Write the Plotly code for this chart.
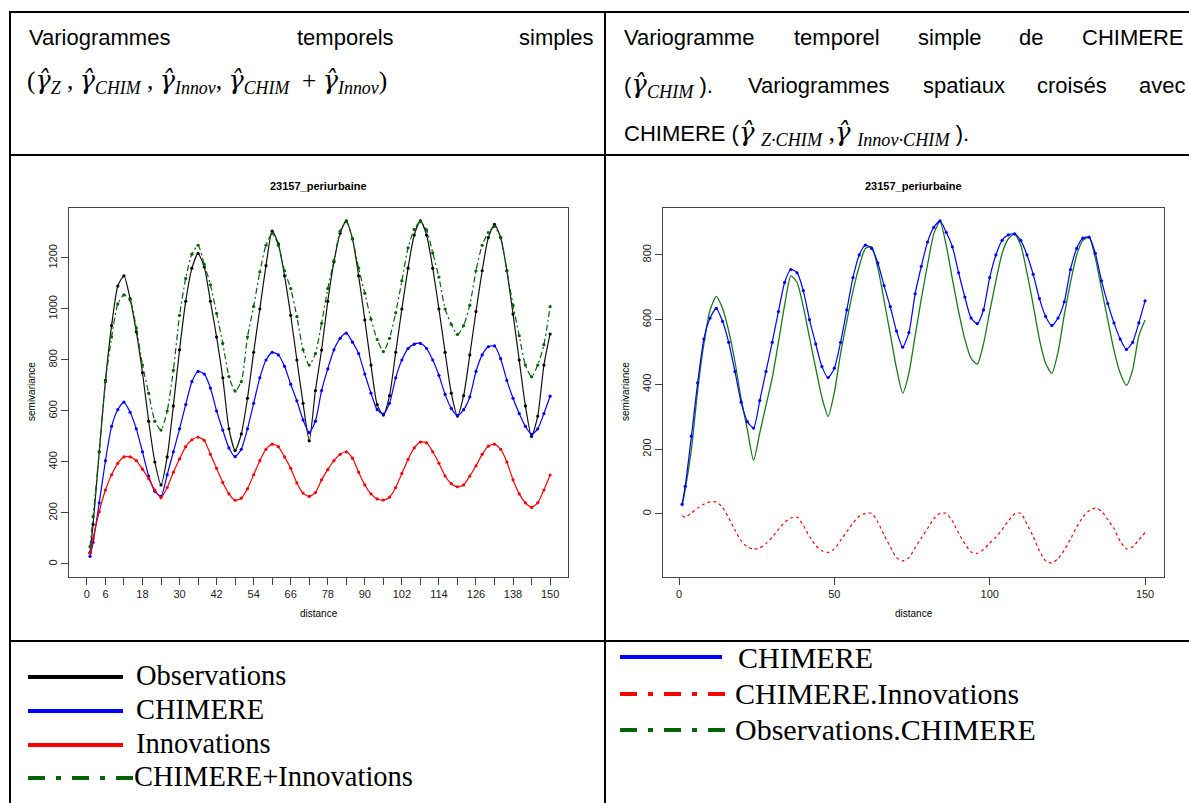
import plotly.graph_objects as go

W, H = 1189, 803

# ---------------- data ----------------
distance = [1, 2, 4, 6, 8, 10, 12, 14, 16, 18, 20, 22,
            24, 26, 28, 30, 32, 34, 36, 38, 40, 42, 44, 46,
            48, 50, 52, 54, 56, 58, 60, 62, 64, 66, 68, 70,
            72, 74, 76, 78, 80, 82, 84, 86, 88, 90, 92, 94,
            96, 98, 100, 102, 104, 106, 108, 110, 112, 114, 116, 118,
            120, 122, 124, 126, 128, 130, 132, 134, 136, 138, 140, 142,
            144, 146, 148, 150]

observations = [45, 155, 440, 720, 935, 1090, 1130, 1040, 910, 750, 560, 400,
                310, 420, 620, 840, 1030, 1160, 1218, 1165, 1030, 890, 730, 530,
                445, 510, 650, 830, 1000, 1170, 1305, 1255, 1130, 975, 800, 630,
                483, 680, 839, 1030, 1185, 1297, 1346, 1275, 1130, 957, 780, 625,
                584, 660, 830, 1000, 1160, 1290, 1346, 1290, 1160, 1000, 830, 670,
                580, 660, 820, 990, 1150, 1280, 1332, 1280, 1150, 980, 800, 620,
                500, 580, 780, 902]

chimere = [30, 85, 240, 405, 540, 605, 635, 595, 530, 440, 345, 285,
           265, 350, 440, 530, 625, 715, 755, 745, 690, 600, 525, 455,
           421, 450, 530, 630, 730, 800, 830, 820, 775, 705, 640, 565,
           515, 560, 680, 765, 840, 885, 905, 870, 825, 745, 670, 605,
           588, 630, 730, 800, 845, 862, 865, 845, 800, 740, 665, 610,
           582, 605, 655, 755, 820, 852, 855, 805, 720, 650, 590, 540,
           508, 530, 590, 658]

innovations = [42, 100, 205, 290, 350, 395, 420, 420, 405, 372, 335, 290,
               260, 300, 360, 412, 460, 487, 497, 485, 430, 375, 320, 275,
               250, 258, 295, 350, 405, 450, 470, 460, 420, 375, 318, 278,
               265, 280, 330, 370, 405, 430, 440, 415, 360, 310, 275, 255,
               251, 262, 300, 355, 410, 455, 478, 475, 440, 395, 345, 315,
               303, 310, 345, 385, 430, 462, 470, 450, 400, 330, 275, 240,
               222, 240, 290, 349]

chimere_plus_innov = [68, 186, 440, 715, 890, 1020, 1055, 1035, 925, 780, 670, 560,
                      525, 600, 760, 975, 1120, 1215, 1250, 1175, 1095, 983, 865, 735,
                      678, 715, 890, 1010, 1145, 1250, 1297, 1250, 1150, 1080, 970, 840,
                      780, 825, 944, 1080, 1190, 1305, 1342, 1275, 1160, 1062, 960, 880,
                      833, 885, 985, 1110, 1240, 1312, 1342, 1310, 1220, 1125, 1000, 940,
                      900, 935, 1015, 1150, 1250, 1300, 1323, 1280, 1150, 1015, 895, 780,
                      734, 780, 860, 1009]

obs_x_chimere = [23, 75, 200, 380, 525, 630, 672, 635, 565, 470, 355, 260,
                 165, 250, 335, 420, 530, 645, 735, 715, 640, 545, 450, 360,
                 301, 375, 495, 595, 688, 765, 820, 825, 760, 660, 555, 450,
                 373, 435, 550, 665, 770, 865, 903, 830, 725, 625, 540, 480,
                 463, 525, 625, 720, 805, 850, 865, 830, 745, 645, 540, 465,
                 434, 500, 615, 715, 800, 845, 854, 790, 695, 600, 505, 435,
                 397, 445, 550, 599]

chimere_x_innov = [-6, -10, 3, 18, 30, 37, 37, 20, -12, -50, -83, -102,
                   -109, -105, -92, -72, -48, -26, -13, -10, -35, -70, -98, -114,
                   -119, -108, -82, -55, -28, -7, 1, 2, -25, -65, -102, -135,
                   -145, -135, -105, -75, -45, -15, 2, 2, -22, -60, -92, -118,
                   -122, -110, -90, -72, -48, -22, 0, 2, -32, -70, -115, -145,
                   -152, -138, -112, -78, -40, -10, 10, 18, 8, -18, -45, -85,
                   -108, -102, -80, -58]

left_xtick_vals = [0, 6, 12, 18, 24, 30, 36, 42, 48, 54, 60, 66, 72, 78, 84,
                   90, 96, 102, 108, 114, 120, 126, 132, 138, 144, 150]
left_xtick_text = ["0", "6", "", "18", "", "30", "", "42", "", "54", "", "66", "",
                   "78", "", "90", "", "102", "", "114", "", "126", "", "138", "", "150"]
left_ytick_vals = [0, 200, 400, 600, 800, 1000, 1200]
right_xtick_vals = [0, 50, 100, 150]
right_ytick_vals = [0, 200, 400, 600, 800]

plot_title = "23157_periurbaine"

# ---------------- helpers ----------------
def px(x):
    return x / W

def py(y):
    return 1 - y / H

annotations = []
shapes = []

def ann(x, y, text, size=21, family="Liberation Sans", xanchor="left",
        yanchor="middle", angle=0, color="black"):
    annotations.append(dict(x=px(x), y=py(y), xref="paper", yref="paper",
                            text=text, showarrow=False, xanchor=xanchor,
                            yanchor=yanchor, textangle=angle,
                            font=dict(family=family, size=size, color=color)))

def hline(x0, x1, y, color="black", width=2, dash=None):
    line = dict(color=color, width=width)
    if dash:
        line["dash"] = dash
    shapes.append(dict(type="line", xref="paper", yref="paper",
                       x0=px(x0), x1=px(x1), y0=py(y), y1=py(y), line=line))

def vline(x, y0, y1, color="black", width=2):
    shapes.append(dict(type="line", xref="paper", yref="paper",
                       x0=px(x), x1=px(x), y0=py(y0), y1=py(y1),
                       line=dict(color=color, width=width)))

ARIAL_W = {' ': 278, 'V': 667, 'a': 556, 'r': 333, 'i': 222, 'o': 556, 'g': 556,
           'm': 833, 'e': 556, 's': 500, 't': 278, 'p': 556, 'l': 222, 'd': 556,
           'C': 722, 'H': 722, 'I': 278, 'M': 833, 'E': 667, 'R': 722, 'u': 556,
           'x': 500, 'c': 500, 'é': 556, 'v': 500, 'n': 556}

def aw(word, size=21):
    return sum(ARIAL_W.get(ch, 556) for ch in word) * size / 1000.0

def justified(tokens, x0, x1, y, size=21):
    total = sum(w for _, w in tokens)
    gap = (x1 - x0 - total) / (len(tokens) - 1)
    x = x0
    for text, w in tokens:
        ann(x, y, text, size=size)
        x += w + gap

# ---------------- table frame ----------------
hline(9, W, 12)
hline(9, W, 155)
hline(9, W, 641)
vline(10, 11, H)
vline(605, 11, H)

# ---------------- header texts ----------------
FS = 22
justified([(w, aw(w, FS)) for w in ["Variogrammes", "temporels", "simples"]],
          27, 592, 38, FS)
G = "<span style='font-family:DejaVu Serif'><i>γ\u0302</i></span>"
SUB = "<sub><i>{}</i></sub>"
ann(25, 82, "(" + G + SUB.format("Z") + " , " + G + SUB.format("CHIM") + " , "
    + G + SUB.format("Innov") + ", " + G + SUB.format("CHIM") + "  + "
    + G + SUB.format("Innov") + ")", size=25.5, family="Liberation Serif")

justified([(w, aw(w, FS)) for w in ["Variogramme", "temporel", "simple", "de", "CHIMERE"]],
          622, 1181, 38, FS)
SER = "<span style='font-family:Liberation Serif;font-size:26px'>"
first_tok = "(" + SER + G + SUB.format("CHIM") + "</span> )."
justified([(first_tok, 92)] + [(w, aw(w, FS)) for w in ["Variogrammes", "spatiaux", "croisés", "avec"]],
          622, 1183, 86, FS)
ann(622, 133, "CHIMERE (" + SER + G + " " + SUB.format("Z·CHIM") + " ," + G + " "
    + SUB.format("Innov·CHIM") + "</span> ).", size=FS)

# ---------------- legend cells ----------------
LEG_FS = 28.5
DASHDOT = "17px,11px,5px,11px"
hline(28, 123, 677, color="black", width=4)
ann(134, 675, "Observations", size=LEG_FS, family="Liberation Serif")
hline(28, 123, 711, color="#0000ff", width=4)
ann(134, 709, "CHIMERE", size=LEG_FS, family="Liberation Serif")
hline(28, 123, 745, color="#ff0000", width=4)
ann(134, 743, "Innovations", size=LEG_FS, family="Liberation Serif")
hline(28, 134, 778, color="#006400", width=4, dash=DASHDOT)
ann(132, 776, "CHIMERE+Innovations", size=LEG_FS, family="Liberation Serif")

RLEG_FS = 30
hline(620, 722, 657, color="#0000ff", width=4)
ann(736, 657, "CHIMERE", size=RLEG_FS, family="Liberation Serif")
hline(620, 735, 694, color="#ff0000", width=4, dash=DASHDOT)
ann(733, 693, "CHIMERE.Innovations", size=RLEG_FS, family="Liberation Serif")
hline(620, 735, 730, color="#006400", width=4, dash=DASHDOT)
ann(733, 729, "Observations.CHIMERE", size=RLEG_FS, family="Liberation Serif")

# ---------------- plot annotations ----------------
for cx, ylx in [(318.5, 32), (913.5, 626)]:
    ann(cx, 186, "<b>" + plot_title + "</b>", size=11, xanchor="center")
    ann(cx, 613, "distance", size=10, xanchor="center")
    ann(ylx, 392, "semivariance", size=10, xanchor="center", angle=-90)

# ---------------- traces ----------------
fig = go.Figure()
mk = dict(size=3.2)
fig.add_trace(go.Scatter(x=distance, y=observations, mode="lines+markers",
                         line=dict(color="#111111", width=1.2, shape="spline", smoothing=0.6),
                         marker=dict(color="#000000", **mk), xaxis="x", yaxis="y"))
fig.add_trace(go.Scatter(x=distance, y=chimere, mode="lines+markers",
                         line=dict(color="#0000ff", width=1.2, shape="spline", smoothing=0.6),
                         marker=dict(color="#0000ff", **mk), xaxis="x", yaxis="y"))
fig.add_trace(go.Scatter(x=distance, y=innovations, mode="lines+markers",
                         line=dict(color="#ff0000", width=1.2, shape="spline", smoothing=0.6),
                         marker=dict(color="#ff0000", **mk), xaxis="x", yaxis="y"))
fig.add_trace(go.Scatter(x=distance, y=chimere_plus_innov, mode="lines+markers",
                         line=dict(color="#006400", width=1.2, dash="6px,3px,2px,3px",
                                   shape="spline", smoothing=0.6),
                         marker=dict(color="#006400", **mk), xaxis="x", yaxis="y"))

fig.add_trace(go.Scatter(x=distance, y=obs_x_chimere, mode="lines",
                         line=dict(color="#1a7a1a", width=1.3, shape="spline", smoothing=0.6),
                         xaxis="x2", yaxis="y2"))
fig.add_trace(go.Scatter(x=distance, y=chimere, mode="lines+markers",
                         line=dict(color="#0000ff", width=1.2, shape="spline", smoothing=0.6),
                         marker=dict(color="#0000ff", **mk), xaxis="x2", yaxis="y2"))
fig.add_trace(go.Scatter(x=distance, y=chimere_x_innov, mode="lines",
                         line=dict(color="#ff0000", width=1.2, dash="3px,3px",
                                   shape="spline", smoothing=0.6),
                         xaxis="x2", yaxis="y2"))

axis_common = dict(showgrid=False, zeroline=False, showline=True, mirror=True,
                   linecolor="#444444", linewidth=1, ticks="outside", ticklen=7,
                   tickcolor="#444444", tickfont=dict(family="Liberation Sans", size=11, color="#222222"))

fig.update_layout(
    width=W, height=H, autosize=False,
    margin=dict(l=0, r=0, t=0, b=0),
    paper_bgcolor="white", plot_bgcolor="white",
    showlegend=False,
    xaxis=dict(domain=[px(69), px(568)], range=[-5.8, 155.8], anchor="y",
               tickmode="array", tickvals=left_xtick_vals, ticktext=left_xtick_text,
               **axis_common),
    yaxis=dict(domain=[py(577), py(208)], range=[-51, 1396], anchor="x",
               tickmode="array", tickvals=left_ytick_vals, tickangle=-90,
               **axis_common),
    xaxis2=dict(domain=[px(663), px(1164)], range=[-5.15, 156.1], anchor="y2",
                tickmode="array", tickvals=right_xtick_vals, **axis_common),
    yaxis2=dict(domain=[py(577), py(208)], range=[-195, 945], anchor="x2",
                tickmode="array", tickvals=right_ytick_vals, tickangle=-90,
                **axis_common),
    annotations=annotations,
    shapes=shapes,
)

fig.write_html("out.html")
